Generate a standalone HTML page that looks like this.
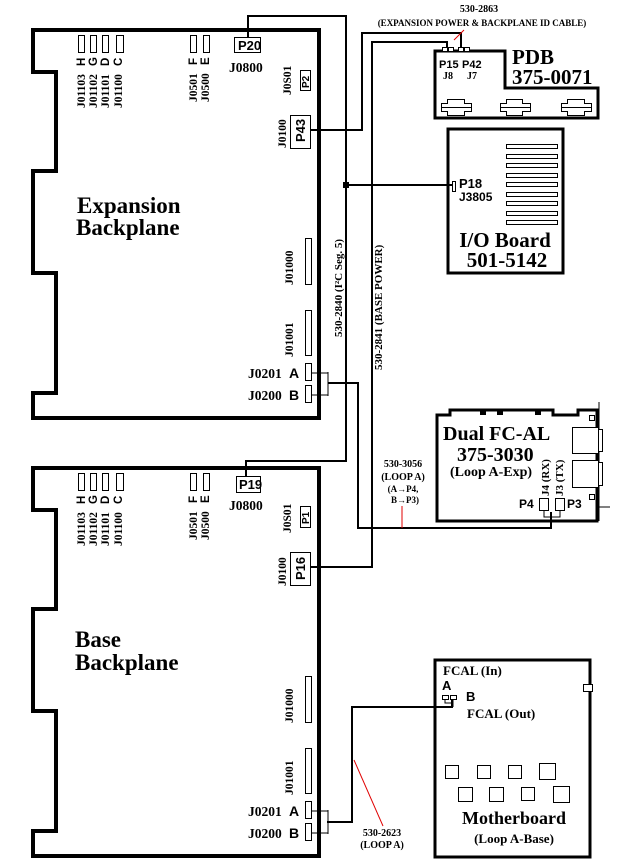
<!DOCTYPE html>
<html><head><meta charset="utf-8"><style>
html,body{margin:0;padding:0;background:#fff;width:629px;height:865px;overflow:hidden}
svg{display:block}
text{font-family:"Liberation Serif",serif;font-weight:bold;fill:#000}
.s{font-family:"Liberation Sans",sans-serif}
</style></head><body>
<svg width="629" height="865" viewBox="0 0 629 865" xmlns="http://www.w3.org/2000/svg">
<defs>
<g id="bp">
  <path d="M33,30 H319 V418 H33 V393 H56 V273 H33 V171 H56 V72 H33 Z" fill="none" stroke="#000" stroke-width="4"/>
  <g fill="none" stroke="#000" stroke-width="1">
    <rect x="78.5" y="35.5" width="6" height="17"/><rect x="90.5" y="35.5" width="6" height="17"/>
    <rect x="102.5" y="35.5" width="6" height="17"/><rect x="116.5" y="35.5" width="7" height="17"/>
    <rect x="190.5" y="35.5" width="6" height="17"/><rect x="203.5" y="35.5" width="6" height="17"/>
    <rect x="305.5" y="238.5" width="6" height="46"/><rect x="305.5" y="310.5" width="6" height="45"/>
    <rect x="305.5" y="363.5" width="6" height="17"/><rect x="305.5" y="385.5" width="6" height="17"/>
    <path d="M311,373 H328 M311,395 H328 M328,372 V396"/>
  </g>
  <g font-size="11.5">
    <text transform="translate(85,108) rotate(-90)">J01103</text>
    <text transform="translate(97,108) rotate(-90)">J01102</text>
    <text transform="translate(109,108) rotate(-90)">J01101</text>
    <text transform="translate(122,108) rotate(-90)">J01100</text>
    <text class="s" transform="translate(85,66) rotate(-90)">H</text>
    <text class="s" transform="translate(97,66) rotate(-90)">G</text>
    <text class="s" transform="translate(109,66) rotate(-90)">D</text>
    <text class="s" transform="translate(122,66) rotate(-90)">C</text>
    <text transform="translate(197,102) rotate(-90)">J0501</text>
    <text transform="translate(209,102) rotate(-90)">J0500</text>
    <text class="s" transform="translate(197,65) rotate(-90)">F</text>
    <text class="s" transform="translate(209,65) rotate(-90)">E</text>
    <text transform="translate(291,95) rotate(-90)">J0S01</text>
    <text transform="translate(286,148) rotate(-90)">J0100</text>
    <text transform="translate(293,285) rotate(-90)">J01000</text>
    <text transform="translate(293,357) rotate(-90)">J01001</text>
  </g>
  <text x="229" y="72" font-size="13.5">J0800</text>
  <text x="248" y="378" font-size="13.5">J0201</text>
  <text x="289" y="378" font-size="14" class="s" font-weight="normal">A</text>
  <text x="248" y="400" font-size="13.5">J0200</text>
  <text x="289" y="400" font-size="14" class="s" font-weight="normal">B</text>
</g>
</defs>

<use href="#bp"/>
<use href="#bp" transform="translate(0,438)"/>

<rect x="234.5" y="37.5" width="26" height="15" fill="#fff" stroke="#000"/>
<text x="238" y="50" font-size="13" class="s">P20</text>
<rect x="300.5" y="70.5" width="10" height="20" fill="#fff" stroke="#000"/>
<text class="s" font-size="10" transform="translate(309,88) rotate(-90)">P2</text>
<rect x="290.5" y="115.5" width="20" height="33" fill="#fff" stroke="#000"/>
<text class="s" font-size="13" transform="translate(305,142) rotate(-90)">P43</text>
<text x="77" y="213" font-size="23">Expansion</text>
<text x="76" y="235" font-size="23">Backplane</text>

<rect x="236.5" y="476.5" width="24" height="16" fill="#fff" stroke="#000"/>
<text x="239" y="489" font-size="13" class="s">P19</text>
<rect x="300.5" y="506.5" width="10" height="21" fill="#fff" stroke="#000"/>
<text class="s" font-size="10" transform="translate(309,524) rotate(-90)">P1</text>
<rect x="290.5" y="552.5" width="20" height="33" fill="#fff" stroke="#000"/>
<text class="s" font-size="13" transform="translate(305,580) rotate(-90)">P16</text>
<text x="75" y="647" font-size="23">Base</text>
<text x="75" y="670" font-size="23">Backplane</text>

<g fill="none" stroke="#000" stroke-width="2">
  <path d="M248,37 V16 H346 V461 H246 V476"/>
  <path d="M346,185 H452"/>
  <path d="M310,130 H362 V33 H461 V50"/>
  <path d="M310,567 H372 V42 H447 V50"/>
  <path d="M328,383 H358 V528 H551 V512"/>
  <path d="M327,822 H352 V707 H452 V700"/>
</g>
<rect x="343" y="182" width="6" height="6" fill="#000"/>
<line x1="402" y1="506" x2="402" y2="528" stroke="#e00000" stroke-width="1"/>
<line x1="354" y1="760" x2="383" y2="826" stroke="#e00000" stroke-width="1"/>
<line x1="464" y1="30" x2="454" y2="40" stroke="#e00000" stroke-width="1"/>

<text font-size="11" font-weight="normal" transform="translate(342,337) rotate(-90)">530-2840 (I²C Seg. 5)</text>
<text font-size="11" font-weight="normal" transform="translate(382,370) rotate(-90)">530-2841 (BASE POWER)</text>
<text x="479" y="12" font-size="10" text-anchor="middle">530-2863</text>
<text x="482" y="26" font-size="9" text-anchor="middle">(EXPANSION POWER &amp; BACKPLANE ID CABLE)</text>
<text x="403" y="467" font-size="10" text-anchor="middle">530-3056</text>
<text x="403" y="480" font-size="10" text-anchor="middle">(LOOP A)</text>
<text x="403" y="492" font-size="9" text-anchor="middle">(A→P4,</text>
<text x="405" y="503" font-size="9" text-anchor="middle">B→P3)</text>
<text x="382" y="836" font-size="10" text-anchor="middle">530-2623</text>
<text x="382" y="848" font-size="10" text-anchor="middle">(LOOP A)</text>

<path d="M435,51 H505 V88 H598 V118 H435 Z" fill="none" stroke="#000" stroke-width="3"/>
<g fill="#fff" stroke="#000" stroke-width="1">
  <rect x="442.5" y="47.5" width="5" height="4"/><rect x="448.5" y="47.5" width="5" height="4"/>
  <rect x="458.5" y="47.5" width="5" height="4"/><rect x="464.5" y="47.5" width="5" height="4"/>
</g>
<text x="439" y="68" font-size="11" class="s">P15</text>
<text x="462" y="68" font-size="11" class="s">P42</text>
<text x="443" y="79" font-size="10">J8</text>
<text x="467" y="79" font-size="10">J7</text>
<text x="512" y="64" font-size="21">PDB</text>
<text x="512" y="84" font-size="21">375-0071</text>
<g fill="none" stroke="#000" stroke-width="1">
  <path d="M441.5,103.5 H447.5 V99.5 H464.5 V103.5 H471.5 V111.5 H464.5 V115.5 H447.5 V111.5 H441.5 Z M441.5,107.5 H471.5"/>
  <path d="M500.5,103.5 H506.5 V99.5 H522.5 V103.5 H530.5 V111.5 H522.5 V115.5 H506.5 V111.5 H500.5 Z M500.5,107.5 H530.5"/>
  <path d="M561.5,103.5 H567.5 V99.5 H584.5 V103.5 H591.5 V111.5 H584.5 V115.5 H567.5 V111.5 H561.5 Z M561.5,107.5 H591.5"/>
</g>

<rect x="448" y="129" width="115" height="144" fill="none" stroke="#000" stroke-width="3"/>
<g fill="#fff" stroke="#000" stroke-width="1">
  <rect x="506.5" y="144.5" width="51" height="4"/><rect x="506.5" y="154.5" width="51" height="4"/>
  <rect x="506.5" y="163.5" width="51" height="4"/><rect x="506.5" y="173.5" width="51" height="4"/>
  <rect x="506.5" y="182.5" width="51" height="4"/><rect x="506.5" y="192.5" width="51" height="4"/>
  <rect x="506.5" y="201.5" width="51" height="4"/><rect x="506.5" y="211.5" width="51" height="4"/>
  <rect x="506.5" y="220.5" width="51" height="4"/>
  <rect x="452.5" y="181.5" width="3" height="10"/>
</g>
<text x="459" y="188" font-size="13" class="s" font-weight="normal">P18</text>
<text x="459" y="201" font-size="12" class="s">J3805</text>
<text x="505" y="247" font-size="21" text-anchor="middle">I/O Board</text>
<text x="507" y="267" font-size="21" text-anchor="middle">501-5142</text>

<path d="M437,521 V415 H450 V410 H553 V415 H578 V410 H597 V521 Z" fill="none" stroke="#000" stroke-width="3"/>
<rect x="480" y="409" width="6" height="6"/><rect x="497" y="409" width="6" height="6"/><rect x="535" y="409" width="6" height="6"/>
<line x1="599" y1="402" x2="599" y2="521" stroke="#000" stroke-width="1"/>
<line x1="597" y1="507" x2="610" y2="507" stroke="#000" stroke-width="1"/>
<g fill="#fff" stroke="#000" stroke-width="1">
  <rect x="572.5" y="427.5" width="26" height="26"/><rect x="598.5" y="429.5" width="4" height="22"/>
  <rect x="572.5" y="460.5" width="26" height="27"/><rect x="598.5" y="462.5" width="4" height="23"/>
  <rect x="589.5" y="415.5" width="5" height="5"/><rect x="589.5" y="494.5" width="5" height="5"/>
  <rect x="539.5" y="498.5" width="9" height="12"/><rect x="555.5" y="498.5" width="9" height="12"/>
</g>
<path d="M544,511 V517 H560 V511 M551,517 V521" fill="none" stroke="#000" stroke-width="1"/>
<text x="443" y="440" font-size="20">Dual FC-AL</text>
<text x="457" y="461" font-size="20">375-3030</text>
<text x="450" y="476" font-size="14" font-weight="normal">(Loop A-Exp)</text>
<text font-size="11" transform="translate(549,496) rotate(-90)">J4 (RX)</text>
<text font-size="11" transform="translate(563,496) rotate(-90)">J3 (TX)</text>
<text x="519" y="508" font-size="12" class="s">P4</text>
<text x="567" y="508" font-size="12" class="s">P3</text>

<rect x="435" y="660" width="155" height="197" fill="none" stroke="#000" stroke-width="3"/>
<g fill="#fff" stroke="#000" stroke-width="1">
  <rect x="583.5" y="684.5" width="9" height="7"/>
  <rect x="442.5" y="695.5" width="6" height="4"/><rect x="450.5" y="695.5" width="6" height="4"/>
  <rect x="445.5" y="765.5" width="13" height="13"/><rect x="477.5" y="765.5" width="13" height="13"/>
  <rect x="508.5" y="765.5" width="13" height="13"/><rect x="539.5" y="763.5" width="16" height="16"/>
  <rect x="458.5" y="787.5" width="14" height="14"/><rect x="489.5" y="787.5" width="14" height="14"/>
  <rect x="521.5" y="787.5" width="13" height="13"/><rect x="553.5" y="786.5" width="16" height="16"/>
</g>
<path d="M445,700 V703 H453 M453,700 V707" fill="none" stroke="#000" stroke-width="1"/>
<text x="443" y="675" font-size="13" font-weight="normal">FCAL (In)</text>
<text x="442" y="690" font-size="13" class="s" font-weight="normal">A</text>
<text x="466" y="701" font-size="13" class="s" font-weight="normal">B</text>
<text x="467" y="718" font-size="13" font-weight="normal">FCAL (Out)</text>
<text x="514" y="824" font-size="18" text-anchor="middle">Motherboard</text>
<text x="514" y="843" font-size="13" font-weight="normal" text-anchor="middle">(Loop A-Base)</text>
</svg>
</body></html>
